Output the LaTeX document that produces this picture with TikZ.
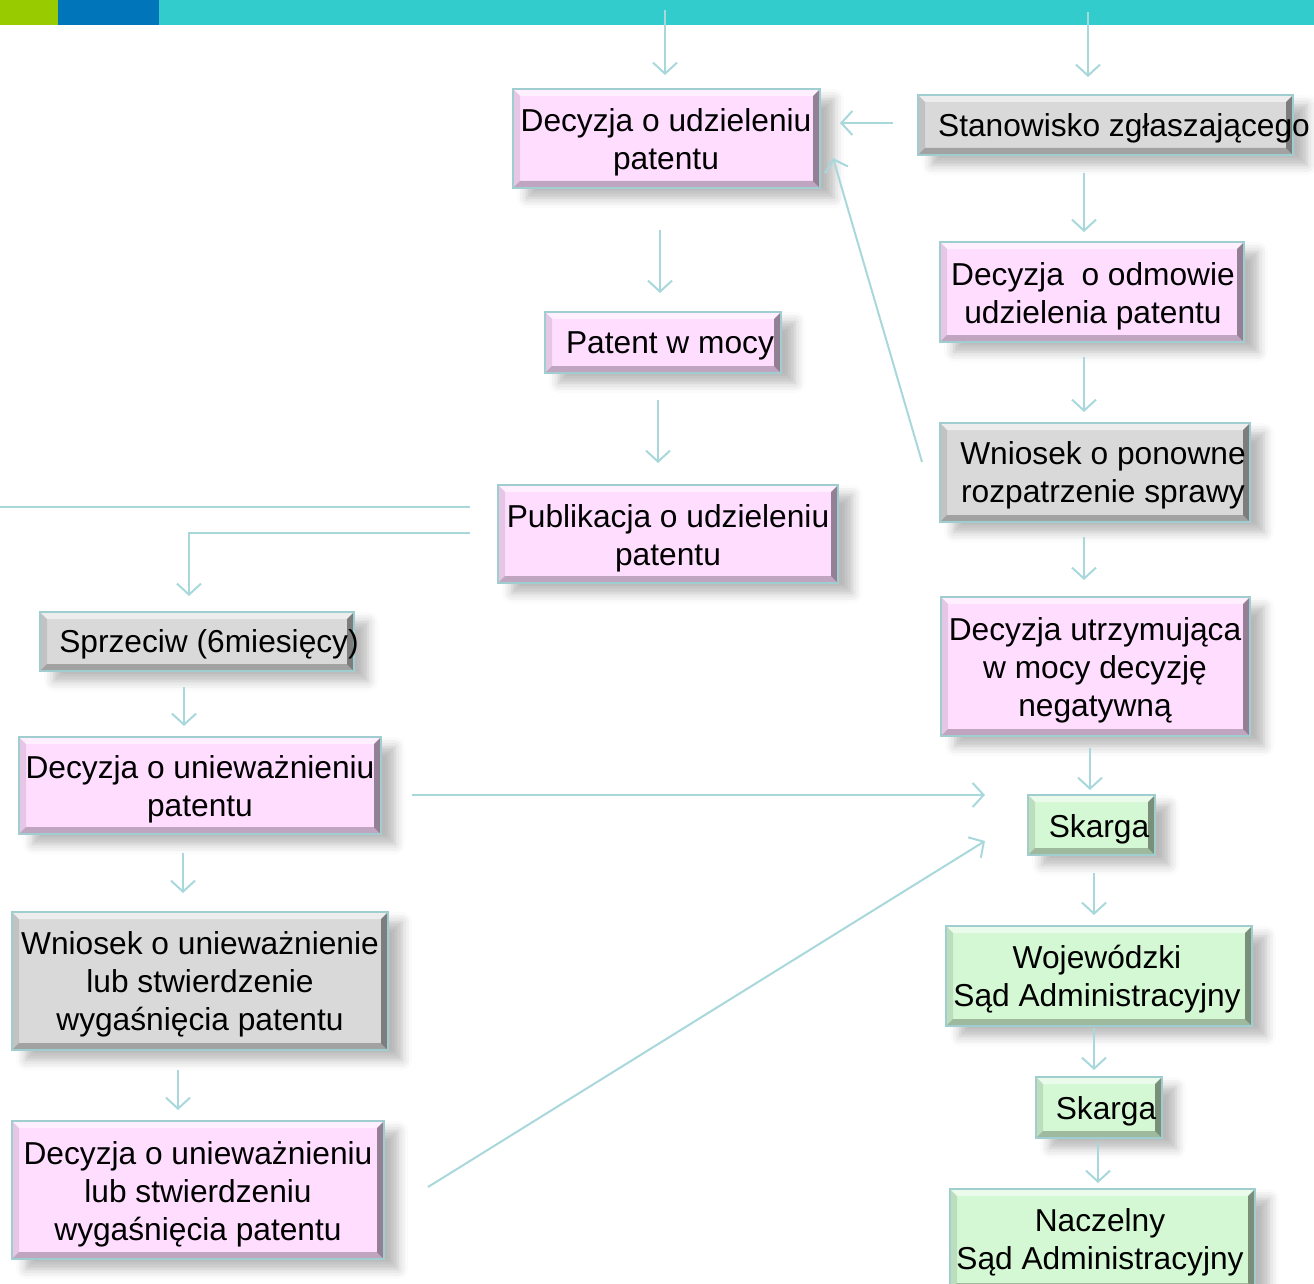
\documentclass[tikz,border=0pt]{standalone}
\usepackage{fontspec}
\setmainfont{Liberation Sans}
\usetikzlibrary{arrows.meta,shadows.blur,calc}
\definecolor{pinkf}{HTML}{FFDDFF}
\definecolor{grayf}{HTML}{D9D9D9}
\definecolor{greenf}{HTML}{D3F8D3}
\definecolor{arrc}{HTML}{A8D8DC}
\definecolor{edgec}{HTML}{A0CDD0}
\definecolor{darkedge}{HTML}{2E3B3B}
\definecolor{barg}{HTML}{99CC00}
\definecolor{barb}{HTML}{0075BA}
\definecolor{bart}{HTML}{33CCCC}
\tikzset{
  x=1pt, y=-1pt,
  boxbase/.style={rectangle, inner sep=0pt, draw=edgec, line width=1.2pt,
    blur shadow={shadow xshift=14pt, shadow yshift=-10pt, shadow blur radius=10pt, shadow opacity=28},
    path picture={
      \path (path picture bounding box.north west) coordinate (bvnw)
            (path picture bounding box.north east) coordinate (bvne)
            (path picture bounding box.south west) coordinate (bvsw)
            (path picture bounding box.south east) coordinate (bvse);
      \fill[white,opacity=.55] (bvnw) -- (bvne) -- ($(bvne)+(-7pt,-7pt)$) -- ($(bvnw)+(7pt,-7pt)$) -- cycle;
      \fill[black,opacity=.10] (bvnw) -- (bvsw) -- ($(bvsw)+(7pt,7pt)$) -- ($(bvnw)+(7pt,-7pt)$) -- cycle;
      \fill[black,opacity=.25] (bvsw) -- (bvse) -- ($(bvse)+(-7pt,7pt)$) -- ($(bvsw)+(7pt,7pt)$) -- cycle;
      \fill[black,opacity=.42] (bvne) -- (bvse) -- ($(bvse)+(-7pt,7pt)$) -- ($(bvne)+(-7pt,-7pt)$) -- cycle;
      \draw[darkedge,line width=2.5pt] (bvne) -- (bvse);
    }},
  pinkbox/.style={boxbase, fill=pinkf},
  graybox/.style={boxbase, fill=grayf},
  greenbox/.style={boxbase, fill=greenf},
  txt/.style={align=center, font=\fontsize{31.7}{38}\selectfont, inner sep=0pt, yshift=-3pt},
  arr/.style={draw=arrc, line width=2pt, -{Straight Barb[length=11pt,width=24pt,line width=2pt]}},
  conn/.style={draw=arrc, line width=2pt},
}
\begin{document}
\begin{tikzpicture}
\useasboundingbox (0,0) rectangle (1314,1284);
% top bar
\fill[barg] (0,0) rectangle (58,25);
\fill[barb] (58,0) rectangle (159,25);
\fill[bart] (159,0) rectangle (1314,25);

% boxes
\node[pinkbox, minimum width=307pt, minimum height=99pt] (dec1) at (666.5,138.5) {};
\node[graybox, minimum width=375pt, minimum height=60pt] (stan) at (1105.5,125) {};
\node[pinkbox, minimum width=304pt, minimum height=100pt] (odm) at (1092,292) {};
\node[graybox, minimum width=310pt, minimum height=99pt] (wnp) at (1095,472.5) {};
\node[pinkbox, minimum width=309pt, minimum height=139pt] (utrz) at (1095.5,666.5) {};
\node[greenbox, minimum width=127pt, minimum height=60pt] (sk1) at (1091.5,825) {};
\node[greenbox, minimum width=306pt, minimum height=100pt] (wsa) at (1099,976) {};
\node[greenbox, minimum width=126pt, minimum height=61pt] (sk2) at (1099,1107.5) {};
\node[greenbox, minimum width=305pt, minimum height=101pt] (nsa) at (1102.5,1239.5) {};
\node[pinkbox, minimum width=236pt, minimum height=61pt] (mocy) at (663,342.5) {};
\node[pinkbox, minimum width=340pt, minimum height=98pt] (publ) at (668,534) {};
\node[graybox, minimum width=314pt, minimum height=59pt] (sprz) at (197,641.5) {};
\node[pinkbox, minimum width=362pt, minimum height=97pt] (unw1) at (200,785.5) {};
\node[graybox, minimum width=376pt, minimum height=138pt] (wnu) at (200,981) {};
\node[pinkbox, minimum width=372pt, minimum height=138pt] (unw2) at (198,1190) {};

% texts
\node[txt] (dec1t) at (666,139) {Decyzja o udzieleniu\\patentu};
\node[txt] (stant) at (1124,125) {Stanowisko zgłaszającego};
\node[txt] (odmt) at (1093,293) {Decyzja\ \ o odmowie\\udzielenia patentu};
\node[txt] (wnpt) at (1103,472) {Wniosek o ponowne\\rozpatrzenie sprawy};
\node[txt] (utrzt) at (1095,667) {Decyzja utrzymująca\\w mocy decyzję\\negatywną};
\node[txt] (sk1t) at (1099,826) {Skarga};
\node[txt] (wsat) at (1097,976) {Wojewódzki\\Sąd Administracyjny};
\node[txt] (sk2t) at (1106,1108) {Skarga};
\node[txt] (nsat) at (1100,1239) {Naczelny\\Sąd Administracyjny};
\node[txt] (mocyt) at (670,343) {Patent w mocy};
\node[txt] (publt) at (668,535) {Publikacja o udzieleniu\\patentu};
\node[txt] (sprzt) at (209,641) {Sprzeciw (6miesięcy)};
\node[txt] (unw1t) at (200,786) {Decyzja o unieważnieniu\\patentu};
\node[txt] (wnut) at (200,981) {Wniosek o unieważnienie\\lub stwierdzenie\\wygaśnięcia patentu};
\node[txt] (unw2t) at (198,1191) {Decyzja o unieważnieniu\\lub stwierdzeniu\\wygaśnięcia patentu};

% connector end points
\coordinate (a1) at (665,10);   \coordinate (b1) at (665,75);
\coordinate (a2) at (1088,12);  \coordinate (b2) at (1088,77);
\coordinate (a3) at (893,123);  \coordinate (b3) at (840,123);
\coordinate (a4) at (922,462);  \coordinate (b4) at (833,158);
\coordinate (a5) at (1084,173); \coordinate (b5) at (1084,232);
\coordinate (a6) at (1084,357); \coordinate (b6) at (1084,412);
\coordinate (a7) at (1084,537); \coordinate (b7) at (1084,580);
\coordinate (a8) at (1090,748); \coordinate (b8) at (1090,790);
\coordinate (a9) at (1094,873); \coordinate (b9) at (1094,915);
\coordinate (a10) at (1094,1028); \coordinate (b10) at (1094,1070);
\coordinate (a11) at (1098,1142); \coordinate (b11) at (1098,1183);
\coordinate (a12) at (660,230); \coordinate (b12) at (660,293);
\coordinate (a13) at (658,400); \coordinate (b13) at (658,463);
\coordinate (a14) at (0,507);   \coordinate (b14) at (470,507);
\coordinate (a15) at (470,533); \coordinate (k15) at (189,533); \coordinate (b15) at (189,596);
\coordinate (a16) at (184,687); \coordinate (b16) at (184,726);
\coordinate (a17) at (183,853); \coordinate (b17) at (183,893);
\coordinate (a18) at (178,1070); \coordinate (b18) at (178,1110);
\coordinate (a19) at (412,795); \coordinate (b19) at (985,795);
\coordinate (a20) at (428,1187); \coordinate (b20) at (985,841);

% connectors
\draw[arr] (a1) -- (b1);
\draw[arr] (a2) -- (b2);
\draw[arr] (a3) -- (b3);
\draw[arr] (a4) -- (b4);
\draw[arr] (a5) -- (b5);
\draw[arr] (a6) -- (b6);
\draw[arr] (a7) -- (b7);
\draw[arr] (a8) -- (b8);
\draw[arr] (a9) -- (b9);
\draw[arr] (a10) -- (b10);
\draw[arr] (a11) -- (b11);
\draw[arr] (a12) -- (b12);
\draw[arr] (a13) -- (b13);
\draw[conn] (a14) -- (b14);
\draw[arr] (a15) -- (k15) -- (b15);
\draw[arr] (a16) -- (b16);
\draw[arr] (a17) -- (b17);
\draw[arr] (a18) -- (b18);
\draw[arr] (a19) -- (b19);
\draw[arr] (a20) -- (b20);
\end{tikzpicture}
\end{document}
